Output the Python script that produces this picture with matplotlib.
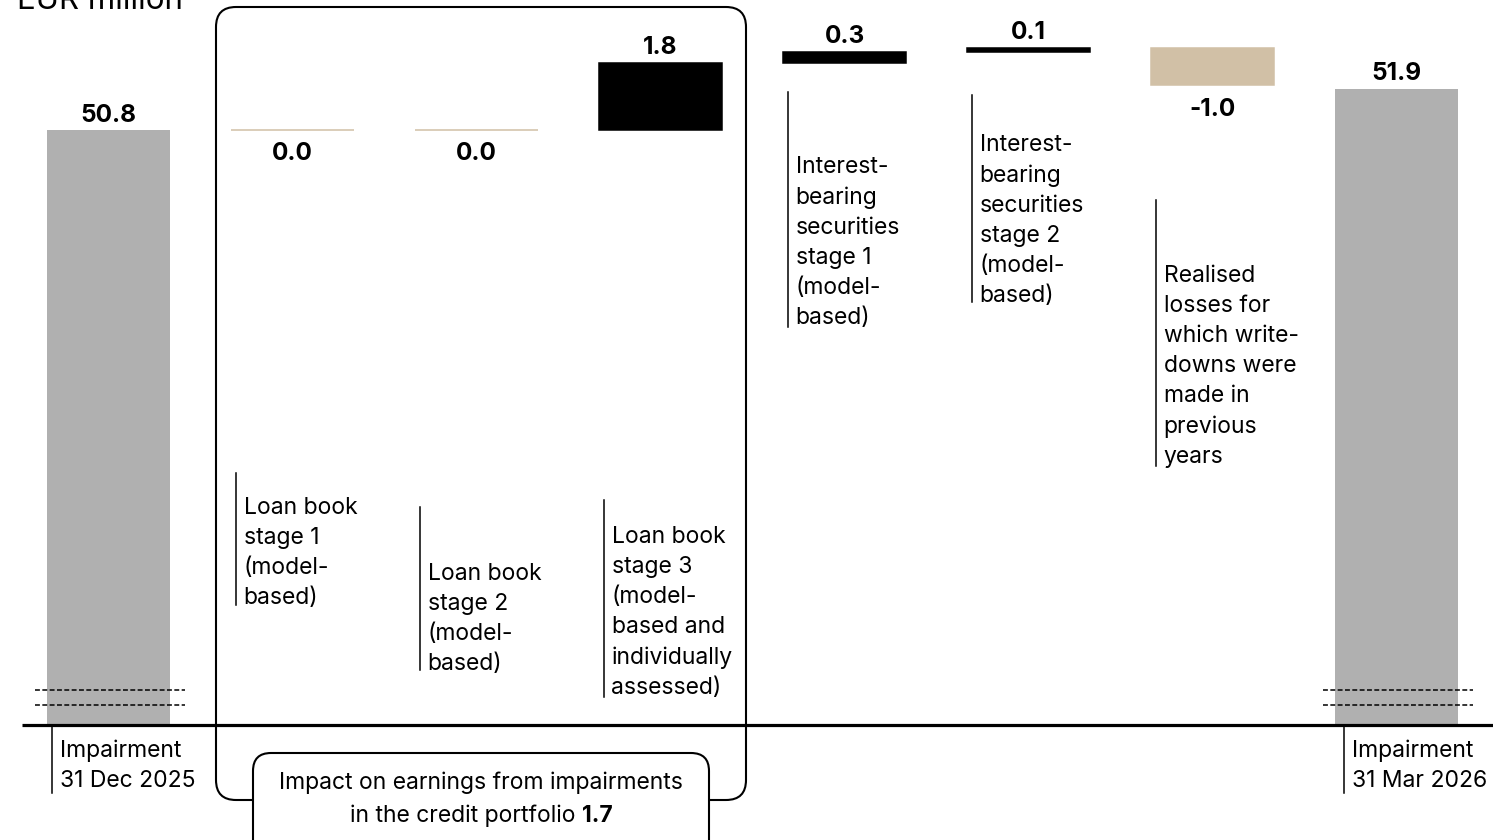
import numpy as np
import matplotlib.pyplot as plt
from matplotlib.patches import FancyBboxPatch
from matplotlib.transforms import Affine2D

# Data
categories = [
    "Impairment\n31 Dec 2025",
    "Loan book\nstage 1\n(model-\nbased)",
    "Loan book\nstage 2\n(model-\nbased)",
    "Loan book\nstage 3\n(model-\nbased and\nindividually\nassessed)",
    "Interest-\nbearing\nsecurities\nstage 1\n(model-\nbased)",
    "Interest-\nbearing\nsecurities\nstage 2\n(model-\nbased)",
    "Realised\nlosses for\nwhich write-\ndowns were\nmade in\nprevious\nyears",
    "Impairment\n31 Mar 2026",
]
start_value = 50.8
changes = [0.0, 0.0, 1.8, 0.3, 0.1, -1.0]
end_value = 51.9
group_total = 1.7

unit = "EUR million"
group_text = "Impact on earnings from impairments"
group_text2 = "in the credit portfolio "

GREY = "#b0b0b0"
BEIGE = "#d1c0a6"
BLACK = "#000000"

plt.rcParams["font.family"] = ["Inter", "DejaVu Sans"]

W, H = 1493, 840
fig = plt.figure(figsize=(W / 100, H / 100), dpi=100)
ax = fig.add_axes([0, 0, 1, 1])
ax.axis("off")

# pixel coords (origin top left) for the decorations
px = Affine2D().scale(1 / 100, -1 / 100).translate(0, H / 100) + fig.dpi_scale_trans

# broken axis: bars start at a floor value on the baseline
ppu = 37.3
base_px = 725
floor = start_value - (base_px - 130) / ppu
ax.set_ylim(floor - (H - base_px) / ppu, floor + base_px / ppu)
x0, step = 108.5, 184
ax.set_xlim(-x0 / step, (W - x0) / step)
bw = 123 / step

n = len(categories)
xs = np.arange(n)
FS = 16.5

# totals
ax.bar([xs[0], xs[-1]], [start_value - floor, end_value - floor], bottom=floor,
       width=bw, color=GREY, zorder=2)
for x, v in [(xs[0], start_value), (xs[-1], end_value)]:
    ax.annotate(f"{v:.1f}", (x, v), xytext=(0, 2.5), textcoords="offset points",
                ha="center", va="bottom", fontsize=17.5, fontweight="bold")

# changes
level = start_value
for i, c in enumerate(changes):
    x = xs[i + 1]
    col = BLACK if c > 0 else BEIGE
    ax.bar(x, c, bottom=level, width=bw, color=col, edgecolor=col, linewidth=1.1, zorder=2)
    if c > 0:
        ax.annotate(f"{c:.1f}", (x, level + c), xytext=(0, 2.5), textcoords="offset points",
                    ha="center", va="bottom", fontsize=17.5, fontweight="bold")
    else:
        ax.annotate(f"{c:.1f}", (x, min(level, level + c)), xytext=(0, -9),
                    textcoords="offset points", ha="center", va="top",
                    fontsize=17.5, fontweight="bold")
    level += c

# baseline and break marks
ax.plot([22, W], [base_px, base_px], transform=px, color=BLACK, lw=2.3,
        solid_capstyle="butt", zorder=3)
for i in [0, n - 1]:
    cx = x0 + step * i
    for y in [690, 705]:
        ax.plot([cx - 74, cx + 76], [y, y], transform=px, color=BLACK, lw=1.1,
                linestyle=(0, (3.2, 1.6)), zorder=3)

# category labels with leader lines
line_top = [727, 473, 507, 500, 92, 95, 200, 727]
line_bot = [793, 605, 670, 697, 327, 302, 466, 793]
text_bot = [792, 609, 675, 699, 329, 307, 468, 792]
for i, lab in enumerate(categories):
    lx = x0 + step * i - 57
    if i == n - 1:
        lx += 4
    ax.plot([lx, lx], [line_top[i], line_bot[i]], transform=px, color=BLACK, lw=1.1)
    ax.text(lx + 8, text_bot[i], lab, transform=px, ha="left", va="bottom",
            fontsize=FS, linespacing=1.475)

# group bracket
big = FancyBboxPatch((216, 7), 530, 793, boxstyle="round,pad=0,rounding_size=20",
                     transform=px, facecolor="none", edgecolor=BLACK, lw=1.5, zorder=4)
ax.add_patch(big)
small = FancyBboxPatch((253, 753), 456, 110, boxstyle="round,pad=0,rounding_size=18",
                       transform=px, facecolor="white", edgecolor=BLACK, lw=1.5, zorder=5)
ax.add_patch(small)
ax.text(481, 783, group_text, transform=px, ha="center", va="center",
        fontsize=FS, zorder=6)

# second line: regular text + bold total, centred together
r = fig.canvas.get_renderer()
t1 = ax.text(0, 816, group_text2, transform=px, ha="left", va="center", fontsize=FS, zorder=6)
t2 = ax.text(0, 816, f"{group_total:.1f}", transform=px, ha="left", va="center",
             fontsize=FS, fontweight="bold", zorder=6)
w1 = t1.get_window_extent(r).width
w2 = t2.get_window_extent(r).width
left = 481 - (w1 + w2) / 2
t1.set_x(left)
t2.set_x(left + w1)

ax.text(17, 9, unit, transform=px, ha="left", va="baseline", fontsize=22.5)

fig.savefig("out.png", dpi=100)
